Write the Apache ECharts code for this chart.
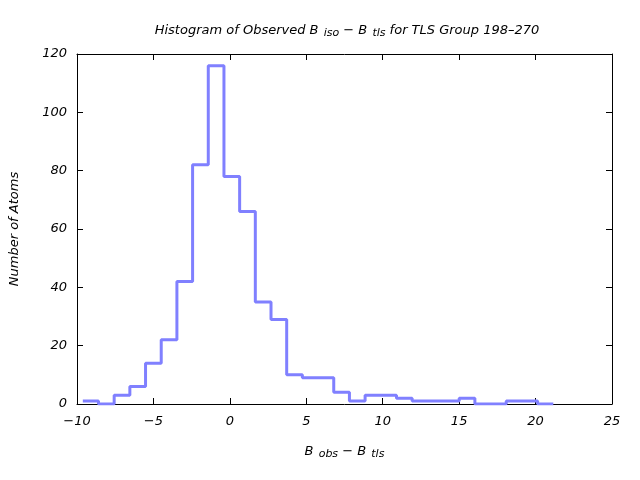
<!DOCTYPE html>
<html>
<head>
<meta charset="utf-8">
<script src="https://cdn.jsdelivr.net/npm/echarts@6/dist/echarts.min.js"></script>
<style>html,body{margin:0;padding:0;background:#fff}#c{width:640px;height:480px}</style>
</head>
<body>
<div id="c"></div>
<script>
// Histogram data
const binStart = -9.62;
const binWidth = 1.026;
const counts = [1, 0, 3, 6, 14, 22, 42, 82, 116, 78, 66, 35, 29, 10, 9, 9, 4, 1, 3, 3, 2, 1, 1, 1, 2, 0, 0, 1, 1, 0];
const xTicks = [-10, -5, 0, 5, 10, 15, 20, 25];
const yTicks = [0, 20, 40, 60, 80, 100, 120];

const steps = [];
counts.forEach((c, i) => {
  const a = binStart + i * binWidth;
  steps.push([a, c]);
  steps.push([a + binWidth, c]);
});

const FONT = 'DejaVu Sans';
const chart = echarts.init(document.getElementById('c'), null, {renderer: 'canvas'});
const axisCommon = {
  axisLine: {show: true, onZero: false, lineStyle: {color: '#000', width: 1}},
  axisTick: {show: true, inside: true, length: 6, lineStyle: {color: '#000'}},
  splitLine: {show: false}
};
const base = {fontFamily: FONT, fontStyle: 'italic', fontWeight: 'normal', fontSize: 13, color: '#000'};
const rich = {
  a: Object.assign({}, base, {lineHeight: 20}),
  s: Object.assign({}, base, {fontSize: 11, padding: [5, 0, 0, 1]})
};
const fmt = v => String(v).replace('-', '\u2212');
chart.setOption({
  animation: false,
  backgroundColor: '#fff',
  title: {
    text: '{a|Histogram of Observed B }{s|iso}{a| \u2212 B }{s|tls}{a| for TLS Group 198\u2013270}',
    left: 342, top: 16, textAlign: 'center',
    textStyle: {fontWeight: 'normal', rich: rich}
  },
  grid: {left: 76, right: 28, top: 54, bottom: 76},
  xAxis: [
    Object.assign({
      type: 'value', min: xTicks[0], max: xTicks[xTicks.length - 1], interval: 5, position: 'bottom',
      axisLabel: Object.assign({}, base, {margin: 11, formatter: fmt}),
      name: '{a|B }{s|obs}{a| \u2212 B }{s|tls}',
      nameLocation: 'middle', nameGap: 38,
      nameTextStyle: {rich: rich}
    }, axisCommon),
    Object.assign({
      type: 'value', min: xTicks[0], max: xTicks[xTicks.length - 1], interval: 5, position: 'top',
      axisLabel: {show: false}
    }, axisCommon)
  ],
  yAxis: [
    Object.assign({
      type: 'value', min: yTicks[0], max: yTicks[yTicks.length - 1], interval: 20, position: 'left',
      axisLabel: Object.assign({}, base, {margin: 10}),
      name: 'Number of Atoms', nameLocation: 'middle', nameGap: 56,
      nameTextStyle: Object.assign({}, base)
    }, axisCommon),
    Object.assign({
      type: 'value', min: yTicks[0], max: yTicks[yTicks.length - 1], interval: 20, position: 'right',
      axisLabel: {show: false}
    }, axisCommon)
  ],
  series: [{
    type: 'line',
    data: steps,
    showSymbol: false,
    symbol: 'none',
    lineStyle: {color: '#8080ff', width: 3},
    xAxisIndex: 0, yAxisIndex: 0
  }]
});
</script>
</body>
</html>
